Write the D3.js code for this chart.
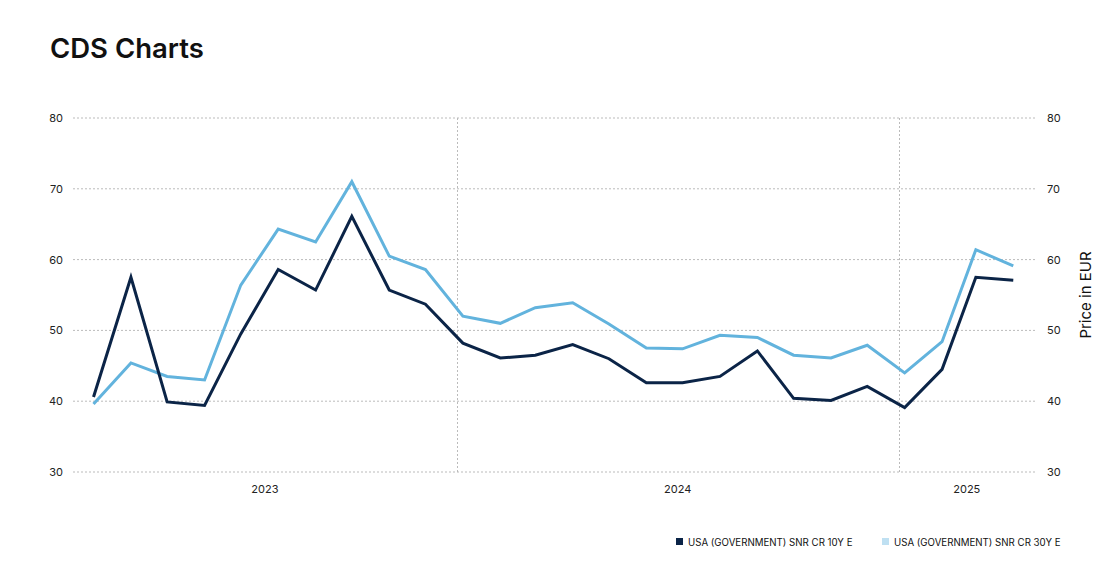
<!DOCTYPE html>
<html><head><meta charset="utf-8">
<script src="https://cdn.jsdelivr.net/npm/d3@7"></script>
<style>body{margin:0;background:#fff;font-family:Inter,"Noto Sans",sans-serif}</style>
</head><body><svg id="c" width="1110" height="585"></svg>
<script>
const months = ["2023-03","2023-04","2023-05","2023-06","2023-07","2023-08","2023-09","2023-10","2023-11","2023-12",
"2024-01","2024-02","2024-03","2024-04","2024-05","2024-06","2024-07","2024-08","2024-09","2024-10","2024-11","2024-12",
"2025-01","2025-02","2025-03","2025-04"];
const series10Y = [40.6,57.5,39.9,39.4,49.5,58.6,55.7,66.1,55.7,53.7,48.2,46.1,46.5,48.0,46.0,42.6,42.6,43.5,47.1,40.4,40.1,42.1,39.1,44.5,57.5,57.1];
const series30Y = [39.6,45.4,43.5,43.0,56.4,64.3,62.5,71.0,60.5,58.6,52.0,51.0,53.2,53.9,50.9,47.5,47.4,49.3,49.0,46.5,46.1,47.9,44.0,48.4,61.4,59.1];
const yTicks = [30,40,50,60,70,80];
const yearTicks = ["2023","2024","2025"];
const seriesNames = ["USA (GOVERNMENT) SNR CR 10Y E","USA (GOVERNMENT) SNR CR 30Y E"];

const svg = d3.select("#c");
const L=73, R=1035, T=118, B=472;
const parse = d3.timeParse("%Y-%m-%d");
const dates = months.map(m => parse(m+"-06"));
const x = d3.scaleTime().domain([parse("2023-02-17"), parse("2025-04-24")]).range([L,R]);
const y = d3.scaleLinear().domain([30,80]).range([B,T]);

svg.append("text").attr("x",50).attr("y",58).text("CDS Charts")
  .attr("font-size",27.5).attr("font-weight",600).attr("fill","#111");

svg.append("g").selectAll("line").data(yTicks).join("line")
  .attr("x1",L).attr("x2",R).attr("y1",d=>y(d)).attr("y2",d=>y(d))
  .attr("stroke","#bbb").attr("stroke-dasharray","2,2").attr("stroke-width",1);
const yearStarts = yearTicks.slice(1).map(t=>parse(t+"-01-01"));
svg.append("g").selectAll("line").data(yearStarts).join("line")
  .attr("x1",d=>Math.round(x(d))+0.5).attr("x2",d=>Math.round(x(d))+0.5).attr("y1",T).attr("y2",B)
  .attr("stroke","#bbb").attr("stroke-dasharray","2,2").attr("stroke-width",1);

const yl = d3.axisLeft(y).tickValues(yTicks).tickSize(0).tickPadding(10);
const gl = svg.append("g").attr("transform",`translate(${L},0)`).call(yl);
const gr = svg.append("g").attr("transform",`translate(${R},0)`).call(d3.axisRight(y).tickValues(yTicks).tickSize(0).tickPadding(12));
[gl,gr].forEach(g=>{g.select(".domain").remove(); g.selectAll("text").attr("font-size",11).attr("fill","#222").attr("font-family","Inter,sans-serif");});

const yearCenters = yearTicks.map(t=>{
  const a = Math.max(x(parse(t+"-01-01")),L), b = Math.min(x(parse((+t+1)+"-01-01")),R);
  return {t, c:(a+b)/2};
});
svg.append("g").selectAll("text").data(yearCenters).join("text")
  .attr("x",d=>d.c).attr("y",B+21).attr("text-anchor","middle")
  .attr("font-size",11).attr("fill","#222").text(d=>d.t);

svg.append("text").attr("transform",`translate(1091,295) rotate(-90)`).attr("text-anchor","middle")
  .attr("font-size",15).attr("fill","#111").text("Price in EUR");

const line = d3.line().x((d,i)=>x(dates[i])).y(d=>y(d));
const colors = ["#0b2447","#62b3dd"];
svg.append("path").datum(series30Y).attr("d",line).attr("fill","none").attr("stroke",colors[1]).attr("stroke-width",3);
svg.append("path").datum(series10Y).attr("d",line).attr("fill","none").attr("stroke",colors[0]).attr("stroke-width",3);

const legColors = ["#0b2447","#bfe0f2"];
const legX = [676, 882];
seriesNames.forEach((n,i)=>{
  svg.append("rect").attr("x",legX[i]).attr("y",538).attr("width",7).attr("height",7).attr("fill",legColors[i]);
  svg.append("text").attr("x",legX[i]+12).attr("y",545.5).attr("font-size",9.7).attr("fill","#111").text(n);
});
</script></body></html>
